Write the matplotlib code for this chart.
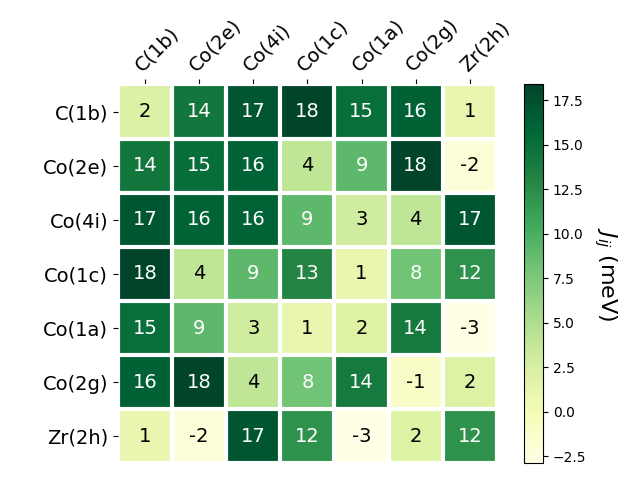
import matplotlib.pyplot as plt
import numpy as np

# Sites and exchange couplings (meV)
sites = ['C(1b)', 'Co(2e)', 'Co(4i)', 'Co(1c)', 'Co(1a)', 'Co(2g)', 'Zr(2h)']
J = np.array([
    [2.1, 14.2, 17.0, 18.4, 15.0, 16.1, 1.0],
    [14.2, 15.1, 16.0, 4.0, 9.0, 18.4, -2.0],
    [17.0, 16.0, 16.0, 9.0, 3.0, 4.0, 17.0],
    [18.4, 4.0, 9.0, 13.0, 1.0, 8.0, 12.0],
    [15.0, 9.0, 3.0, 1.0, 2.0, 14.0, -2.9],
    [16.1, 18.4, 4.0, 8.0, 14.0, -1.0, 2.0],
    [1.0, -2.0, 17.0, 12.0, -2.9, 2.0, 12.0],
])

fig, ax = plt.subplots(figsize=(6.4, 4.8))
im = ax.imshow(J, cmap='YlGn')

cbar = fig.colorbar(im, ax=ax)
cbar.ax.set_ylabel('$J_{ij}$ (meV)', rotation=-90, va='bottom', fontsize=16)

ax.set_xticks(np.arange(len(sites)), labels=sites, fontsize=14)
ax.set_yticks(np.arange(len(sites)), labels=sites, fontsize=14)
ax.tick_params(top=True, bottom=False, labeltop=True, labelbottom=False)
plt.setp(ax.get_xticklabels(), rotation=45, ha='left', rotation_mode='anchor')

# white grid between cells
ax.spines[:].set_visible(False)
ax.set_xticks(np.arange(len(sites) + 1) - .5, minor=True)
ax.set_yticks(np.arange(len(sites) + 1) - .5, minor=True)
ax.grid(which='minor', color='w', linestyle='-', linewidth=3)
ax.tick_params(which='minor', bottom=False, left=False, top=False)

# annotate cells
threshold = im.norm(J.max()) / 2.
for i in range(len(sites)):
    for j in range(len(sites)):
        color = 'white' if im.norm(J[i, j]) > threshold else 'black'
        ax.text(j, i, f'{J[i, j]:.0f}', ha='center', va='center',
                color=color, fontsize=14)

fig.tight_layout()
plt.savefig('out.png', dpi=100)
